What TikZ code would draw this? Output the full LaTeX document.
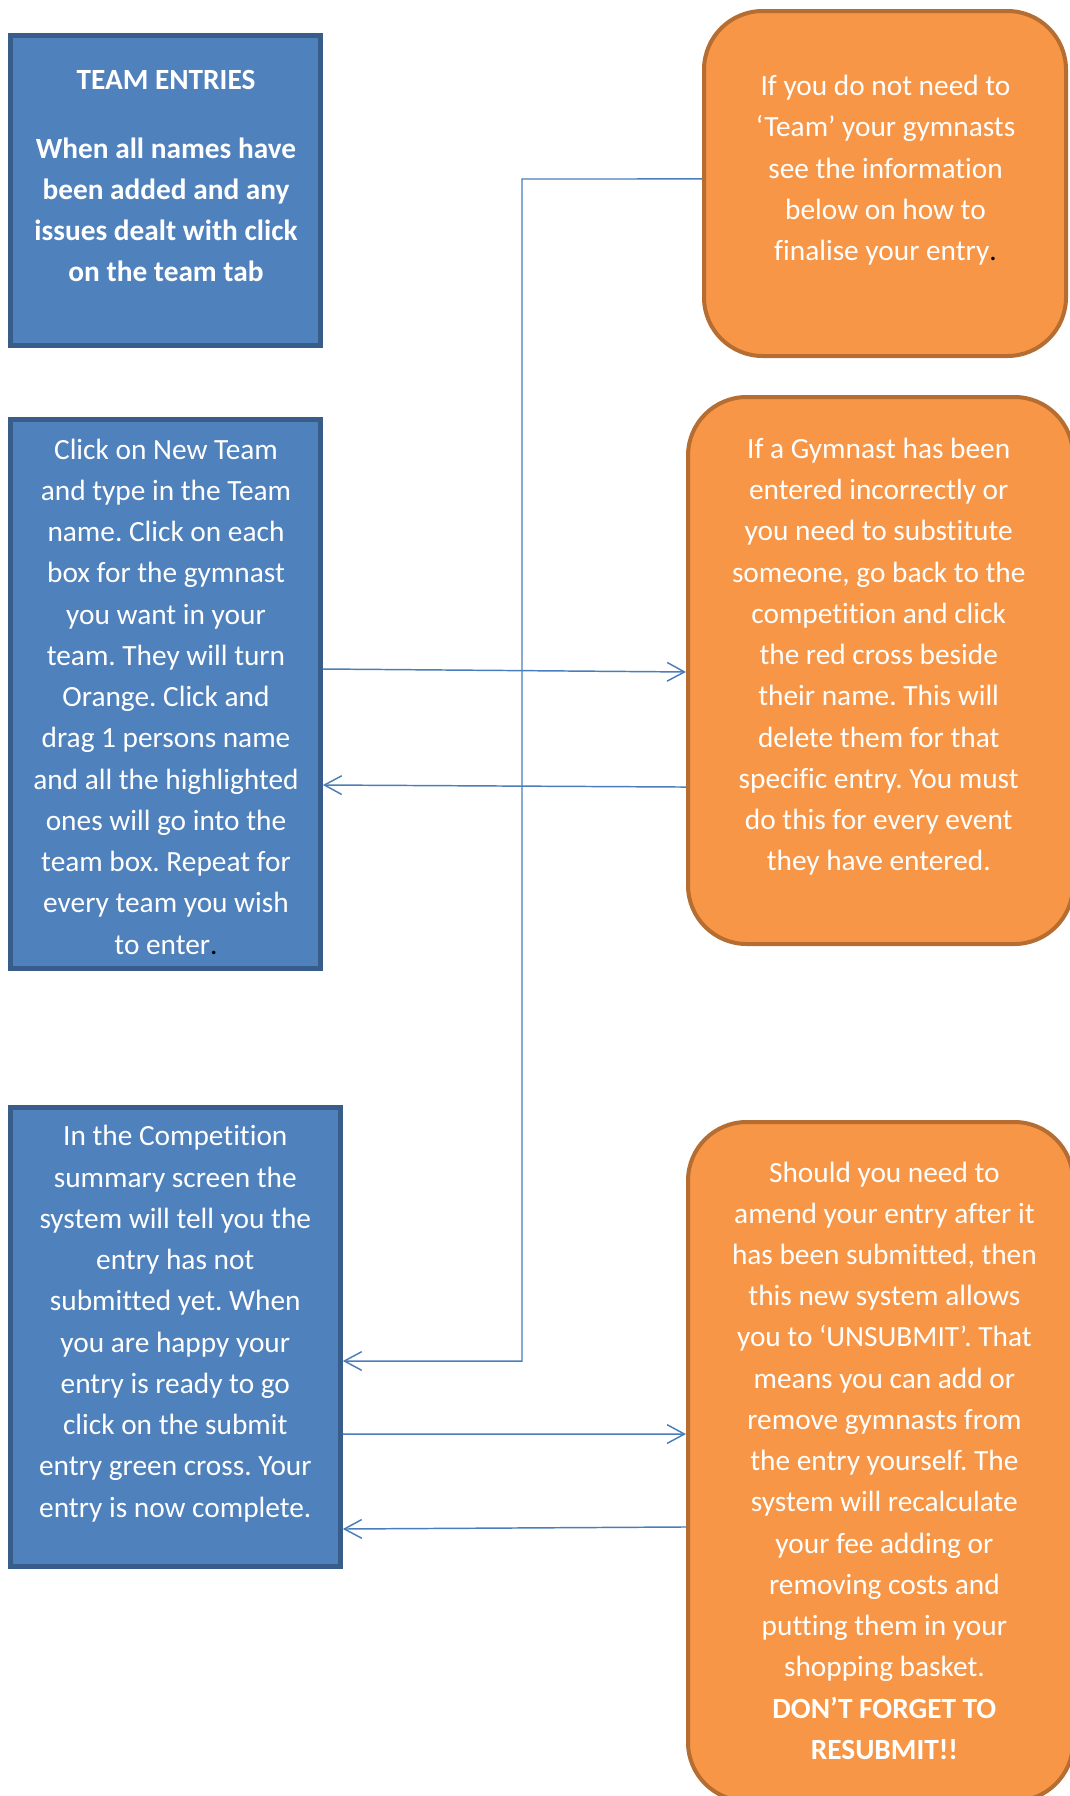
\documentclass[tikz,border=0pt]{standalone}
\usepackage{fontspec}
\setmainfont[Ligatures={NoCommon}]{Carlito}
\usetikzlibrary{arrows.meta}
\definecolor{bluefill}{HTML}{4F81BD}
\definecolor{blueline}{HTML}{385D8A}
\definecolor{orangefill}{HTML}{F79646}
\definecolor{orangeline}{HTML}{B66D31}
\definecolor{connblue}{HTML}{4A7EBB}
\tikzset{
  bluebox/.style={draw=blueline, fill=bluefill, line width=3.5pt, rectangle, inner sep=0pt},
  orangebox/.style={draw=orangeline, fill=orangefill, line width=3pt, rectangle, rounded corners=44pt, inner sep=0pt},
  boxtext/.style={text=white, align=center, inner sep=0pt, font=\fontsize{22}{30.93}\selectfont},
  conn/.style={draw=connblue, line width=1.1pt},
  arr/.style={conn, -{Straight Barb[length=13pt,width=14pt,line width=1.1pt]}},
}
\begin{document}
\frenchspacing
\begin{tikzpicture}[x=0.75pt,y=-0.75pt]
\useasboundingbox (0,0) rectangle (1070,1796);
\fill[white] (0,0) rectangle (1070,1796);

% blue boxes
\node[bluebox, minimum width=232.5pt, minimum height=232.5pt] (b1) at (165.5,190.5) {};
\node[bluebox, minimum width=232.5pt, minimum height=411.75pt] (b2) at (165.5,694) {};
\node[bluebox, minimum width=247.5pt, minimum height=344.25pt] (b3) at (175.5,1337) {};

% orange boxes
\node[orangebox, minimum width=271.5pt, minimum height=258.75pt] (o1) at (885,183.5) {};
\node[orangebox, minimum width=288.75pt, minimum height=410.25pt] (o2) at (880.5,670.5) {};
\node[orangebox, minimum width=288.75pt, minimum height=509.25pt] (o3) at (880.5,1461.5) {};

% texts
\node[boxtext, font=\fontsize{22}{30.93}\selectfont\bfseries] (t1a) at (166,80.2) {TEAM ENTRIES};
\node[boxtext, font=\fontsize{22}{30.93}\selectfont\bfseries] (t1b) at (166,209.8) {When all names have\\been added and any\\issues dealt with click\\on the team tab};
\node[boxtext] (t2) at (166,696.5) {Click on New Team\\and type in the Team\\name. Click on each\\box for the gymnast\\you want in your\\team. They will turn\\Orange. Click and\\drag 1 persons name\\and all the highlighted\\ones will go into the\\team box. Repeat for\\every team you wish\\to enter{\color{black}.}};
\node[boxtext] (t3) at (175.3,1323.6) {In the Competition\\summary screen the\\system will tell you the\\entry has not\\submitted yet. When\\you are happy your\\entry is ready to go\\click on the submit\\entry green cross. Your\\entry is now complete.};
\node[boxtext] (to1) at (885.5,170.4) {If you do not need to\\‘Team’ your gymnasts\\see the information\\below on how to\\finalise your entry{\color{black}.}};
\node[boxtext] (to2) at (878.7,656.8) {If a Gymnast has been\\entered incorrectly or\\you need to substitute\\someone, go back to the\\competition and click\\the red cross beside\\their name. This will\\delete them for that\\specific entry. You must\\do this for every event\\they have entered.};
\node[boxtext] (to3) at (884.4,1460.6) {Should you need to\\amend your entry after it\\has been submitted, then\\this new system allows\\you to ‘UNSUBMIT’. That\\means you can add or\\remove gymnasts from\\the entry yourself. The\\system will recalculate\\your fee adding or\\removing costs and\\putting them in your\\shopping basket.\\\textbf{DON’T FORGET TO}\\\textbf{RESUBMIT!!}};

% connectors
\coordinate (c1) at (522,179);
\coordinate (c2) at (522,1361);
\draw[arr] ([yshift=3.4pt]o1.west) -- (c1) -- (c2) -- (b3.east |- c2);
\draw[arr] ([yshift=18.75pt]b2.east) -- ([yshift=-1.1pt]o2.west);
\draw[arr] ([yshift=-87.4pt]o2.west) -- ([yshift=-68.25pt]b2.east);
\draw[arr] ([yshift=-72.75pt]b3.east) -- ([yshift=20.6pt]o3.west);
\draw[arr] ([yshift=-49.1pt]o3.west) -- ([yshift=-144pt]b3.east);
\end{tikzpicture}
\end{document}
